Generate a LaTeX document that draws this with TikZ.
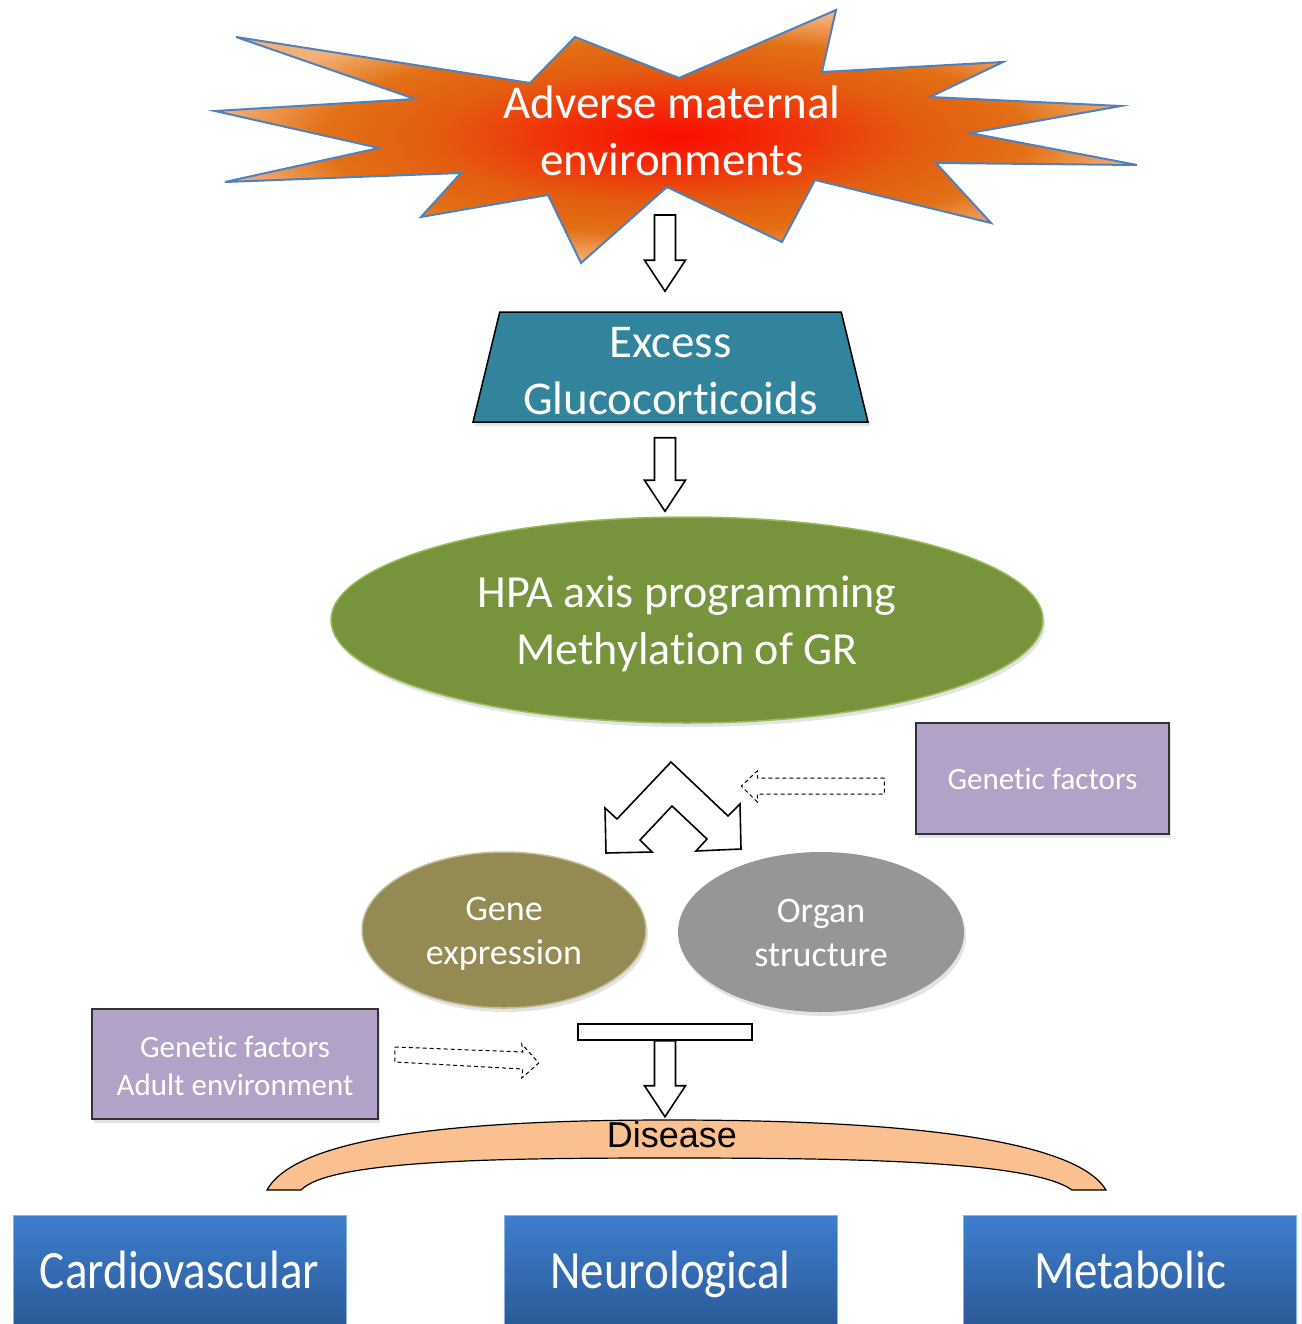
\documentclass[tikz,border=0pt]{standalone}
\usepackage{fontspec}
\setmainfont{Carlito}[Ligatures=CommonOff]
\newfontfamily\arialfont{Liberation Sans}
\usepackage{graphicx}
\usepackage{tikz}
\usetikzlibrary{positioning,shapes.geometric,calc,shadows}

\definecolor{starblue}{RGB}{79,129,189}
\definecolor{burstred}{RGB}{250,12,0}
\definecolor{burstmid}{RGB}{242,45,8}
\definecolor{burstorange}{RGB}{228,92,16}
\definecolor{burstdeep}{RGB}{226,112,22}
\definecolor{bursttip}{RGB}{243,176,118}
\definecolor{gcteal}{RGB}{49,132,155}
\definecolor{hpagreen}{RGB}{119,147,60}
\definecolor{hpaedge}{RGB}{155,187,89}
\definecolor{geneolive}{RGB}{148,138,84}
\definecolor{geneedge}{RGB}{196,189,151}
\definecolor{organgray}{RGB}{150,150,150}
\definecolor{lavender}{RGB}{178,162,199}
\definecolor{boxedge}{RGB}{50,50,50}
\definecolor{diseasefill}{RGB}{250,192,144}
\definecolor{outtop}{RGB}{61,126,206}
\definecolor{outbottom}{RGB}{44,90,152}

\pgfdeclareradialshading{burstshade}{\pgfpoint{0bp}{0bp}}{%
  color(0bp)=(burstred); color(6bp)=(burstmid); color(13bp)=(burstorange);
  color(19bp)=(burstdeep); color(25bp)=(bursttip); color(50bp)=(bursttip)}

% hollow block arrow pointing down, from #1 to the tip #2
\newcommand{\blockdown}[2]{%
  \draw[blockarrow] let \p1=(#1), \p2=(#2) in
    (\x1-10.5pt,\y1) -- (\x1+10.5pt,\y1) -- (\x1+10.5pt,\y2+31pt)
    -- (\x1+20.5pt,\y2+31pt) -- (\x1,\y2) -- (\x1-20.5pt,\y2+31pt)
    -- (\x1-10.5pt,\y2+31pt) -- cycle;}
% tall outcome label
\newcommand{\tall}[1]{\scalebox{1}[1.15]{#1}}

\begin{document}
\begin{tikzpicture}[x=1pt,y=-1pt,
    lbl/.style={text=white, align=center},
    bigtext/.style={font=\fontsize{47}{57}\selectfont},
    midtext/.style={font=\fontsize{36}{44}\selectfont},
    smalltext/.style={font=\fontsize{31}{38}\selectfont},
    softshadow/.style={drop shadow={opacity=0.22, shadow xshift=2pt, shadow yshift=-4pt}},
    purplebox/.style={rectangle, draw=boxedge, line width=1.5pt, fill=lavender, lbl, smalltext, softshadow},
    blockarrow/.style={draw=black, line width=1.6pt, fill=white, line join=miter},
    dashedarrow/.style={draw=black, line width=1pt, dash pattern=on 4pt off 3pt, fill=white},
    outcome/.style={rectangle, draw=outtop!60!white, line width=0.6pt, top color=outtop, bottom color=outbottom,
      minimum width=333pt, minimum height=109pt, text height=45pt, text depth=8pt, lbl, bigtext}]

\useasboundingbox (0,0) rectangle (1301,1324);

% starburst
\shadedraw[shading=burstshade, draw=starblue, line width=2pt]
  (236,37) -- (530,83) -- (575,37) -- (679,78) -- (836,10) -- (822,72)
  -- (1003,62) -- (930,97) -- (1121,106) -- (970,133) -- (1137,165)
  -- (936,163) -- (991,223) -- (815,180) -- (782,242) -- (667,187)
  -- (581,263) -- (548,195) -- (421,217) -- (461,173) -- (225,182)
  -- (379,148) -- (215,111) -- (415,99) -- cycle;
\node[lbl, bigtext] (burst) at (672,131) {Adverse maternal\\environments};

% glucocorticoids
\node[trapezium, trapezium stretches=true, trapezium left angle=77, trapezium right angle=77,
  minimum width=395pt, minimum height=110pt, fill=gcteal, draw=black, line width=1.5pt,
  lbl, bigtext, softshadow] (gc) at (670.5,367) {\rule{0pt}{38pt}Excess\\Glucocorticoids};

% HPA axis
\node[ellipse, fill=hpagreen, draw=hpaedge, line width=1.5pt, minimum width=712pt, minimum height=206pt,
  lbl, font=\fontsize{46}{57}\selectfont, softshadow] (hpa) at (687,620)
  {\rule{0pt}{40pt}HPA axis programming\\Methylation of GR};

\coordinate (a1) at (665,215);
\coordinate (a1tip) at ($(gc.north -| a1)+(0,-20)$);
\blockdown{a1}{a1tip}
\coordinate (a2) at ($(gc.south -| a1)+(0,15)$);
\coordinate (a2tip) at ($(hpa.north -| a1)+(0,-5)$);
\blockdown{a2}{a2tip}

% split arrow
\coordinate (split) at (672,806);
\draw[blockarrow, shift={(split)}]
  (-1,-44) -- (-55,13) -- (-67,2) -- (-66,47) -- (-20,46) -- (-32,34)
  -- (0,0) -- (35,33) -- (24,45) -- (69,43) -- (68,-2) -- (56,10) -- cycle;

% genetic factors
\node[purplebox, minimum width=253pt, minimum height=111pt] (gf1) at (1042.5,778.5) {Genetic factors};
\draw[dashedarrow, shift={(gf1.west)}]
  (-31,-0.5) -- (-158,-0.5) -- (-158,-7.5) -- (-174,7.5) -- (-158,23.5)
  -- (-158,15.5) -- (-31,15.5) -- cycle;

\node[ellipse, fill=geneolive, draw=geneedge, line width=1.5pt, minimum width=284pt, minimum height=156pt,
  lbl, midtext, softshadow] (gene) at (504,930) {\rule{0pt}{31pt}Gene\\expression};
\node[ellipse, fill=organgray, minimum width=286pt, minimum height=160pt,
  lbl, midtext, softshadow] (organ) at (821,932) {\rule{0pt}{26pt}Organ\\structure};

\node[purplebox, minimum width=286pt, minimum height=110pt] (gf2) at (235,1064)
  {\rule{0pt}{25pt}Genetic factors\\Adult environment};
\draw[dashedarrow, shift={(gf2.east)}]
  (16,-17) -- (144,-12) -- (143,-20) -- (160,-1) -- (143,14) -- (144,5) -- (16,-2) -- cycle;

% T bar and disease
\node[draw=black, line width=1.5pt, fill=white, minimum width=174pt, minimum height=16pt,
  inner sep=0pt] (tbar) at (665,1032) {};
\coordinate (a3tip) at ($(tbar.south)+(0,76)$);
\blockdown{tbar.south}{a3tip}

\draw[fill=diseasefill, draw=black, line width=1.2pt]
  (267,1190) .. controls (300,1130) and (500,1120) .. (669,1120)
  .. controls (840,1120) and (1070,1130) .. (1106,1190) -- (1072,1190)
  .. controls (1030,1160) and (840,1158) .. (669,1158)
  .. controls (500,1158) and (330,1160) .. (301,1190) -- cycle;
\node[font=\arialfont\fontsize{36}{40}\selectfont] (dis) at (672,1135) {Disease};

% outcomes
\node[outcome] (cardio) at (179.5,1269.5) {\tall{Cardiovascular}};
\node[outcome] (neuro) at (670.5,1269.5) {\tall{Neurological}};
\node[outcome] (meta) at (1130,1269.5) {\tall{Metabolic}};

\end{tikzpicture}
\end{document}
